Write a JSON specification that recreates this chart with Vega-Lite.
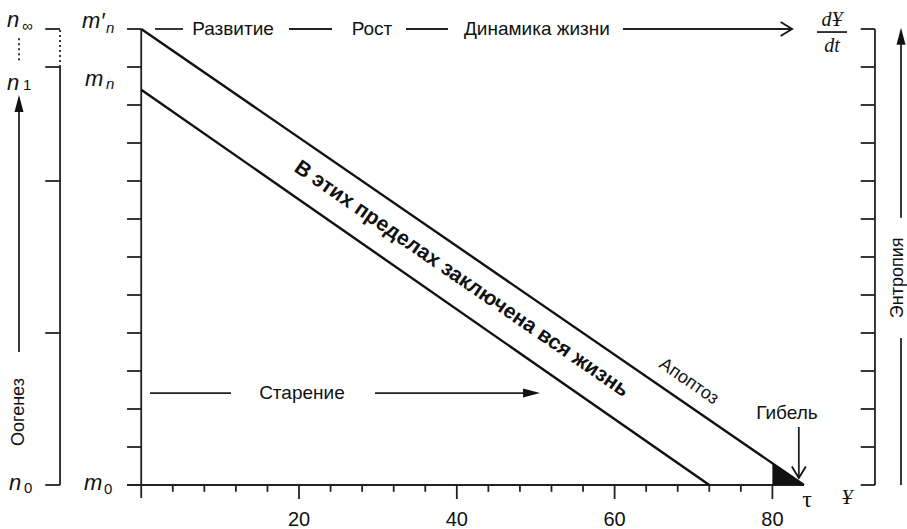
{
  "$schema": "https://vega.github.io/schema/vega-lite/v6.json",
  "width": 907,
  "height": 529,
  "autosize": {"type": "none"},
  "padding": 0,
  "background": "white",
  "config": {"view": {"stroke": null}},
  "datasets": {
    "seg": [
      {"x": -1.8, "y": 0, "x2": 84, "y2": 0},
      {"x": 0, "y": 12, "x2": 0, "y2": -0.34},
      {"x": -1.8, "y": 1, "x2": 0, "y2": 1},
      {"x": -1.8, "y": 2, "x2": 0, "y2": 2},
      {"x": -1.8, "y": 3, "x2": 0, "y2": 3},
      {"x": -1.8, "y": 4, "x2": 0, "y2": 4},
      {"x": -1.8, "y": 5, "x2": 0, "y2": 5},
      {"x": -1.8, "y": 6, "x2": 0, "y2": 6},
      {"x": -1.8, "y": 7, "x2": 0, "y2": 7},
      {"x": -1.8, "y": 8, "x2": 0, "y2": 8},
      {"x": -1.8, "y": 9, "x2": 0, "y2": 9},
      {"x": -1.8, "y": 10, "x2": 0, "y2": 10},
      {"x": -1.8, "y": 11, "x2": 0, "y2": 11},
      {"x": -1.8, "y": 12, "x2": 0, "y2": 12},
      {"x": 4, "y": 0, "x2": 4, "y2": -0.18},
      {"x": 8, "y": 0, "x2": 8, "y2": -0.18},
      {"x": 12, "y": 0, "x2": 12, "y2": -0.18},
      {"x": 16, "y": 0, "x2": 16, "y2": -0.18},
      {"x": 24, "y": 0, "x2": 24, "y2": -0.18},
      {"x": 28, "y": 0, "x2": 28, "y2": -0.18},
      {"x": 32, "y": 0, "x2": 32, "y2": -0.18},
      {"x": 36, "y": 0, "x2": 36, "y2": -0.18},
      {"x": 44, "y": 0, "x2": 44, "y2": -0.18},
      {"x": 48, "y": 0, "x2": 48, "y2": -0.18},
      {"x": 52, "y": 0, "x2": 52, "y2": -0.18},
      {"x": 56, "y": 0, "x2": 56, "y2": -0.18},
      {"x": 64, "y": 0, "x2": 64, "y2": -0.18},
      {"x": 68, "y": 0, "x2": 68, "y2": -0.18},
      {"x": 72, "y": 0, "x2": 72, "y2": -0.18},
      {"x": 76, "y": 0, "x2": 76, "y2": -0.18},
      {"x": 20, "y": 0, "x2": 20, "y2": -0.37},
      {"x": 40, "y": 0, "x2": 40, "y2": -0.37},
      {"x": 60, "y": 0, "x2": 60, "y2": -0.37},
      {"x": 80, "y": 0, "x2": 80, "y2": -0.37},
      {"x": 93, "y": 0, "x2": 93, "y2": 12},
      {"x": 91.2, "y": 0, "x2": 93, "y2": 0},
      {"x": 91.2, "y": 1, "x2": 93, "y2": 1},
      {"x": 91.2, "y": 2, "x2": 93, "y2": 2},
      {"x": 91.2, "y": 3, "x2": 93, "y2": 3},
      {"x": 91.2, "y": 4, "x2": 93, "y2": 4},
      {"x": 91.2, "y": 5, "x2": 93, "y2": 5},
      {"x": 91.2, "y": 6, "x2": 93, "y2": 6},
      {"x": 91.2, "y": 7, "x2": 93, "y2": 7},
      {"x": 91.2, "y": 8, "x2": 93, "y2": 8},
      {"x": 91.2, "y": 9, "x2": 93, "y2": 9},
      {"x": 91.2, "y": 10, "x2": 93, "y2": 10},
      {"x": 91.2, "y": 11, "x2": 93, "y2": 11},
      {"x": 91.2, "y": 12, "x2": 93, "y2": 12},
      {"x": 96.3, "y": 11.6, "x2": 96.3, "y2": 7.03},
      {"x": 96.3, "y": 3.87, "x2": 96.3, "y2": 0},
      {"x": -10.29, "y": 0, "x2": -10.29, "y2": 11},
      {"x": -12.17, "y": 0, "x2": -10.29, "y2": 0},
      {"x": -12.17, "y": 4, "x2": -10.29, "y2": 4},
      {"x": -12.17, "y": 8, "x2": -10.29, "y2": 8},
      {"x": -12.17, "y": 11, "x2": -10.29, "y2": 11},
      {"x": -12.17, "y": 12, "x2": -10.29, "y2": 12},
      {"x": -15.49, "y": 3.5, "x2": -15.49, "y2": 9.9},
      {"x": 1.75, "y": 12, "x2": 5.3, "y2": 12},
      {"x": 18.73, "y": 12, "x2": 24.18, "y2": 12},
      {"x": 33.56, "y": 12, "x2": 38.88, "y2": 12},
      {"x": 61.06, "y": 12, "x2": 82.4, "y2": 12},
      {"x": 1.11, "y": 2.42, "x2": 11.38, "y2": 2.42},
      {"x": 29.63, "y": 2.42, "x2": 50.0, "y2": 2.42},
      {"x": 83.35, "y": 1.526, "x2": 83.35, "y2": 0.2},
      {"x": 85.65, "y": 11.92, "x2": 89.45, "y2": 11.92}
    ],
    "dots": [
      {"x": -10.29, "y": 11, "x2": -10.29, "y2": 12},
      {"x": -15.49, "y": 11.18, "x2": -15.49, "y2": 11.79}
    ],
    "diag": [
      {"x": 0, "y": 12, "x2": 84, "y2": 0},
      {"x": 0, "y": 10.4, "x2": 72, "y2": 0}
    ],
    "tri": [
      {"x": 80, "y": 0.571},
      {"x": 84, "y": 0}
    ],
    "headsFilled": [
      {"x": -15.49, "y": 10.26, "a": 0},
      {"x": 96.3, "y": 12.03, "a": 0},
      {"x": 50.55, "y": 2.42, "a": 90}
    ],
    "headsOpen": [
      {"x": 82.5, "y": 12, "a": 90},
      {"x": 83.35, "y": 0.184, "a": 180}
    ],
    "labels": [
      {"x": 11.63, "y": 12.0, "t": "Развитие"},
      {"x": 29.25, "y": 12.0, "t": "Рост"},
      {"x": 50.16, "y": 12.0, "t": "Динамика жизни"},
      {"x": 20.37, "y": 2.42, "t": "Старение"},
      {"x": 81.85, "y": 1.89, "t": "Гибель"}
    ],
    "ticklabels": [
      {"x": 20, "y": -0.92, "t": "20"},
      {"x": 40, "y": -0.92, "t": "40"},
      {"x": 60, "y": -0.92, "t": "60"},
      {"x": 80, "y": -0.92, "t": "80"}
    ],
    "vert": [
      {"x": -15.49, "y": 1.92, "t": "Оогенез"},
      {"x": 95.95, "y": 5.45, "t": "Энтропия"}
    ],
    "bold": [
      {"x": 40.6, "y": 5.42, "t": "В этих пределах заключена вся жизнь"}
    ],
    "apop": [
      {"x": 69.4, "y": 2.72, "t": "Апоптоз"}
    ],
    "letters": [
      {"x": -17.0, "y": 12.05, "t": "n"},
      {"x": -17.0, "y": 10.39, "t": "n"},
      {"x": -16.75, "y": -0.13, "t": "n"},
      {"x": -7.5, "y": 12.03, "t": "m′"},
      {"x": -7.12, "y": 10.5, "t": "m"},
      {"x": -7.25, "y": -0.13, "t": "m"}
    ],
    "subsIt": [
      {"x": -15.11, "y": 11.95, "t": "∞"},
      {"x": -4.46, "y": 11.89, "t": "n"},
      {"x": -4.46, "y": 10.42, "t": "n"}
    ],
    "subsUp": [
      {"x": -14.98, "y": 10.39, "t": "1"},
      {"x": -14.85, "y": -0.21, "t": "0"},
      {"x": -4.71, "y": -0.24, "t": "0"}
    ],
    "serif": [
      {"x": 84.4, "y": -0.39, "t": "τ"}
    ],
    "serifIt": [
      {"x": 89.47, "y": -0.33, "t": "Ұ"},
      {"x": 87.55, "y": 12.24, "t": "dҰ"},
      {"x": 87.55, "y": 11.55, "t": "dt"}
    ]
  },
  "layer": [
    {
      "data": {"name": "seg"},
      "mark": {"type": "rule", "color": "#222", "strokeWidth": 1.8},
      "encoding": {
        "x": {"field": "x", "type": "quantitative", "scale": {"domain": [-17.9, 97.06], "nice": false, "zero": false}, "axis": null},
        "y": {"field": "y", "type": "quantitative", "scale": {"domain": [-1.158, 12.763], "nice": false, "zero": false}, "axis": null},
        "x2": {"field": "x2"},
        "y2": {"field": "y2"}
      }
    },
    {
      "data": {"name": "dots"},
      "mark": {"type": "rule", "color": "#222", "strokeWidth": 1.8, "strokeDash": [2, 3]},
      "encoding": {
        "x": {"field": "x", "type": "quantitative", "scale": {"domain": [-17.9, 97.06], "nice": false, "zero": false}, "axis": null},
        "y": {"field": "y", "type": "quantitative", "scale": {"domain": [-1.158, 12.763], "nice": false, "zero": false}, "axis": null},
        "x2": {"field": "x2"},
        "y2": {"field": "y2"}
      }
    },
    {
      "data": {"name": "diag"},
      "mark": {"type": "rule", "color": "#111", "strokeWidth": 2.4},
      "encoding": {
        "x": {"field": "x", "type": "quantitative", "scale": {"domain": [-17.9, 97.06], "nice": false, "zero": false}, "axis": null},
        "y": {"field": "y", "type": "quantitative", "scale": {"domain": [-1.158, 12.763], "nice": false, "zero": false}, "axis": null},
        "x2": {"field": "x2"},
        "y2": {"field": "y2"}
      }
    },
    {
      "data": {"name": "tri"},
      "mark": {"type": "area", "color": "#111", "opacity": 1},
      "encoding": {
        "x": {"field": "x", "type": "quantitative", "scale": {"domain": [-17.9, 97.06], "nice": false, "zero": false}, "axis": null},
        "y": {"field": "y", "type": "quantitative", "scale": {"domain": [-1.158, 12.763], "nice": false, "zero": false}, "axis": null},
        "y2": {"datum": 0}
      }
    },
    {
      "data": {"name": "headsFilled"},
      "mark": {"type": "point", "filled": true, "color": "#111", "opacity": 1, "size": 100, "shape": "M0,0L-0.9,3.4L0.9,3.4Z"},
      "encoding": {
        "x": {"field": "x", "type": "quantitative", "scale": {"domain": [-17.9, 97.06], "nice": false, "zero": false}, "axis": null},
        "y": {"field": "y", "type": "quantitative", "scale": {"domain": [-1.158, 12.763], "nice": false, "zero": false}, "axis": null},
        "angle": {"field": "a", "type": "quantitative", "scale": null}
      }
    },
    {
      "data": {"name": "headsOpen"},
      "mark": {"type": "point", "filled": false, "color": "#111", "opacity": 1, "strokeWidth": 1.8, "size": 100, "shape": "M-1.4,2.3L0,0L1.4,2.3"},
      "encoding": {
        "x": {"field": "x", "type": "quantitative", "scale": {"domain": [-17.9, 97.06], "nice": false, "zero": false}, "axis": null},
        "y": {"field": "y", "type": "quantitative", "scale": {"domain": [-1.158, 12.763], "nice": false, "zero": false}, "axis": null},
        "angle": {"field": "a", "type": "quantitative", "scale": null}
      }
    },
    {
      "data": {"name": "labels"},
      "mark": {"type": "text", "font": "Liberation Sans", "fontSize": 19, "color": "#111", "baseline": "middle", "align": "center"},
      "encoding": {
        "x": {"field": "x", "type": "quantitative", "scale": {"domain": [-17.9, 97.06], "nice": false, "zero": false}, "axis": null},
        "y": {"field": "y", "type": "quantitative", "scale": {"domain": [-1.158, 12.763], "nice": false, "zero": false}, "axis": null},
        "text": {"field": "t"}
      }
    },
    {
      "data": {"name": "ticklabels"},
      "mark": {"type": "text", "font": "Liberation Sans", "fontSize": 20, "color": "#111", "baseline": "middle", "align": "center"},
      "encoding": {
        "x": {"field": "x", "type": "quantitative", "scale": {"domain": [-17.9, 97.06], "nice": false, "zero": false}, "axis": null},
        "y": {"field": "y", "type": "quantitative", "scale": {"domain": [-1.158, 12.763], "nice": false, "zero": false}, "axis": null},
        "text": {"field": "t"}
      }
    },
    {
      "data": {"name": "vert"},
      "mark": {"type": "text", "font": "Liberation Sans", "fontSize": 18, "color": "#111", "baseline": "middle", "align": "center", "angle": 270},
      "encoding": {
        "x": {"field": "x", "type": "quantitative", "scale": {"domain": [-17.9, 97.06], "nice": false, "zero": false}, "axis": null},
        "y": {"field": "y", "type": "quantitative", "scale": {"domain": [-1.158, 12.763], "nice": false, "zero": false}, "axis": null},
        "text": {"field": "t"}
      }
    },
    {
      "data": {"name": "bold"},
      "mark": {"type": "text", "font": "Liberation Sans", "fontSize": 21, "fontWeight": "bold", "color": "#111", "baseline": "middle", "align": "center", "angle": 34.5},
      "encoding": {
        "x": {"field": "x", "type": "quantitative", "scale": {"domain": [-17.9, 97.06], "nice": false, "zero": false}, "axis": null},
        "y": {"field": "y", "type": "quantitative", "scale": {"domain": [-1.158, 12.763], "nice": false, "zero": false}, "axis": null},
        "text": {"field": "t"}
      }
    },
    {
      "data": {"name": "apop"},
      "mark": {"type": "text", "font": "Liberation Sans", "fontSize": 18, "color": "#111", "baseline": "middle", "align": "center", "angle": 34.5},
      "encoding": {
        "x": {"field": "x", "type": "quantitative", "scale": {"domain": [-17.9, 97.06], "nice": false, "zero": false}, "axis": null},
        "y": {"field": "y", "type": "quantitative", "scale": {"domain": [-1.158, 12.763], "nice": false, "zero": false}, "axis": null},
        "text": {"field": "t"}
      }
    },
    {
      "data": {"name": "letters"},
      "mark": {"type": "text", "font": "Liberation Sans", "fontSize": 22, "fontStyle": "italic", "color": "#111", "baseline": "alphabetic", "align": "left"},
      "encoding": {
        "x": {"field": "x", "type": "quantitative", "scale": {"domain": [-17.9, 97.06], "nice": false, "zero": false}, "axis": null},
        "y": {"field": "y", "type": "quantitative", "scale": {"domain": [-1.158, 12.763], "nice": false, "zero": false}, "axis": null},
        "text": {"field": "t"}
      }
    },
    {
      "data": {"name": "subsIt"},
      "mark": {"type": "text", "font": "Liberation Sans", "fontSize": 15, "fontStyle": "italic", "color": "#111", "baseline": "alphabetic", "align": "left"},
      "encoding": {
        "x": {"field": "x", "type": "quantitative", "scale": {"domain": [-17.9, 97.06], "nice": false, "zero": false}, "axis": null},
        "y": {"field": "y", "type": "quantitative", "scale": {"domain": [-1.158, 12.763], "nice": false, "zero": false}, "axis": null},
        "text": {"field": "t"}
      }
    },
    {
      "data": {"name": "subsUp"},
      "mark": {"type": "text", "font": "Liberation Sans", "fontSize": 15, "color": "#111", "baseline": "alphabetic", "align": "left"},
      "encoding": {
        "x": {"field": "x", "type": "quantitative", "scale": {"domain": [-17.9, 97.06], "nice": false, "zero": false}, "axis": null},
        "y": {"field": "y", "type": "quantitative", "scale": {"domain": [-1.158, 12.763], "nice": false, "zero": false}, "axis": null},
        "text": {"field": "t"}
      }
    },
    {
      "data": {"name": "serif"},
      "mark": {"type": "text", "font": "Liberation Serif", "fontSize": 24, "color": "#111", "baseline": "middle", "align": "center"},
      "encoding": {
        "x": {"field": "x", "type": "quantitative", "scale": {"domain": [-17.9, 97.06], "nice": false, "zero": false}, "axis": null},
        "y": {"field": "y", "type": "quantitative", "scale": {"domain": [-1.158, 12.763], "nice": false, "zero": false}, "axis": null},
        "text": {"field": "t"}
      }
    },
    {
      "data": {"name": "serifIt"},
      "mark": {"type": "text", "font": "Liberation Serif", "fontSize": 20, "fontStyle": "italic", "color": "#111", "baseline": "middle", "align": "center"},
      "encoding": {
        "x": {"field": "x", "type": "quantitative", "scale": {"domain": [-17.9, 97.06], "nice": false, "zero": false}, "axis": null},
        "y": {"field": "y", "type": "quantitative", "scale": {"domain": [-1.158, 12.763], "nice": false, "zero": false}, "axis": null},
        "text": {"field": "t"}
      }
    }
  ]
}
